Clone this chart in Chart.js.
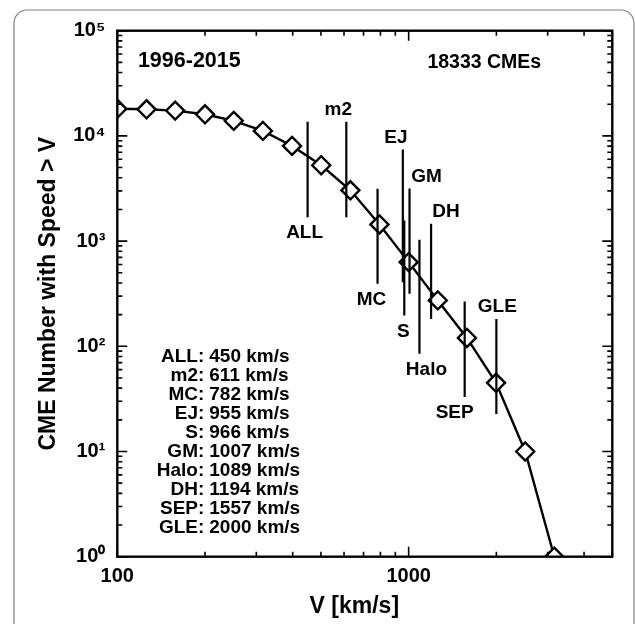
<!DOCTYPE html>
<html>
<head>
<meta charset="utf-8">
<script src="https://cdn.jsdelivr.net/npm/chart.js@4"></script>
<style>
  html, body { margin: 0; padding: 0; background: #fff; }
  #wrap { width: 635px; height: 624px; position: relative; }
</style>
</head>
<body>
<div id="wrap"><canvas id="cmeChart"></canvas></div>
<script>
// cumulative CME counts: number of CMEs faster than V
const speeds = [100, 126, 158, 200, 251, 316, 398, 501, 631, 794, 1000, 1259, 1585, 1995, 2512, 3162];
const counts = [18100, 17900, 17400, 16050, 13900, 11150, 8030, 5260, 3040, 1440, 631, 273, 120, 45, 10, 1];

// average speeds of the special populations (vertical bars)
const groupNames = ['ALL', 'm2', 'MC', 'EJ', 'S', 'GM', 'Halo', 'DH', 'SEP', 'GLE'];
const groupSpeeds = [450, 611, 782, 955, 966, 1007, 1089, 1194, 1557, 2000];
const barLow = [1690, 1690, 393, 407, 196, 316, 85, 182, 33, 22.7];
const barHigh = [13600, 13600, 3150, 7420, 1574, 3155, 1031, 1465, 267, 182];

// tick labels
const xTicks = [100, 1000];
const yTicks = [1, 10, 100, 1000, 10000, 100000];

// where each bar label sits (above/below the bar, small sideways nudge)
const labelSide = ['below', 'above', 'below', 'above', 'below', 'above', 'below', 'above', 'below', 'above'];
const labelNudge = [-3, -8, -6, -7, -1, 17, 7, 15, -10, 1];

const FONT = 'Liberation Sans, Arial, sans-serif';
const sup = { 0: '\u2070', 1: '\u00b9', 2: '\u00b2', 3: '\u00b3', 4: '\u2074', 5: '\u2075' };

Chart.defaults.font.family = FONT;
Chart.defaults.font.weight = 'bold';
Chart.defaults.color = '#000';

// ticks on all four sides, pointing inward, plus the black box
const axisBox = {
    id: 'axisBox',
    afterDatasetsDraw(chart) {
        const { ctx, chartArea: a, scales: { x, y } } = chart;
        ctx.save();
        ctx.strokeStyle = '#000';
        ctx.lineWidth = 1.6;
        ctx.beginPath();
        for (let dec = 100; dec <= 1000; dec *= 10) {
            for (let m = 1; m <= 9; m++) {
                const v = m * dec;
                if (v > 5000) break;
                const px = x.getPixelForValue(v);
                const len = m === 1 ? 10 : 5;
                ctx.moveTo(px, a.bottom); ctx.lineTo(px, a.bottom - len);
                ctx.moveTo(px, a.top); ctx.lineTo(px, a.top + len);
            }
        }
        for (let dec = 1; dec <= 100000; dec *= 10) {
            for (let m = 1; m <= 9; m++) {
                const v = m * dec;
                if (v > 100000) break;
                const py = y.getPixelForValue(v);
                const len = m === 1 ? 10 : 5;
                ctx.moveTo(a.left, py); ctx.lineTo(a.left + len, py);
                ctx.moveTo(a.right, py); ctx.lineTo(a.right - len, py);
            }
        }
        ctx.stroke();
        ctx.lineWidth = 2.4;
        ctx.strokeRect(a.left, a.top, a.right - a.left, a.bottom - a.top);
        ctx.restore();
    }
};

// texts: bar names, year range, total, speed list, x title, outer frame
const annotations = {
    id: 'annotations',
    afterDraw(chart) {
        const { ctx, chartArea: a, scales: { x, y } } = chart;
        ctx.save();
        ctx.fillStyle = '#000';
        ctx.textBaseline = 'middle';

        ctx.font = 'bold 19px ' + FONT;
        ctx.textAlign = 'center';
        groupNames.forEach((name, i) => {
            const px = x.getPixelForValue(groupSpeeds[i]) + labelNudge[i];
            const py = labelSide[i] === 'above'
                ? y.getPixelForValue(barHigh[i]) - 12
                : y.getPixelForValue(barLow[i]) + 16;
            ctx.fillText(name, px, py);
        });

        ctx.font = 'bold 21.5px ' + FONT;
        ctx.fillText('1996-2015', a.left + 72, a.top + 30);
        ctx.font = 'bold 19.5px ' + FONT;
        ctx.fillText('18333 CMEs', a.left + 367, a.top + 32);

        ctx.font = 'bold 23px ' + FONT;
        ctx.fillText('V [km/s]', a.left + 237, a.bottom + 50);

        // speed list, aligned on the colon
        ctx.font = 'bold 19px ' + FONT;
        groupNames.forEach((name, i) => {
            const py = a.top + 326 + i * 19;
            ctx.textAlign = 'right';
            ctx.fillText(name + ':', a.left + 87, py);
            ctx.textAlign = 'left';
            ctx.fillText(groupSpeeds[i] + ' km/s', a.left + 92, py);
        });

        // rounded outer frame
        ctx.strokeStyle = '#808080';
        ctx.lineWidth = 1.2;
        ctx.beginPath();
        ctx.roundRect(14, 10, 620, 700, 13);
        ctx.stroke();
        ctx.restore();
    }
};

const barSets = groupNames.map((name, i) => ({
    label: name,
    data: [{ x: groupSpeeds[i], y: barLow[i] }, { x: groupSpeeds[i], y: barHigh[i] }],
    borderColor: '#000',
    borderWidth: 2.2,
    pointRadius: 0,
    order: 0
}));

const ctx = document.getElementById('cmeChart').getContext('2d');
new Chart(ctx, {
    type: 'line',
    data: {
        datasets: [{
            label: 'CMEs',
            data: speeds.map((v, i) => ({ x: v, y: counts[i] })),
            borderColor: '#000',
            borderWidth: 2.4,
            pointStyle: 'rectRot',
            pointRadius: 9,
            pointBorderWidth: 2.4,
            pointBorderColor: '#000',
            pointBackgroundColor: '#fff',
            tension: 0,
            clip: 0,
            order: 1
        }, ...barSets]
    },
    options: {
        responsive: true,
        maintainAspectRatio: false,
        animation: false,
        events: [],
        layout: { padding: { top: 30.7, right: 22.7, left: 0, bottom: 0 } },
        plugins: { legend: { display: false }, tooltip: { enabled: false } },
        scales: {
            x: {
                type: 'logarithmic',
                min: 100,
                max: 5000,
                grid: { display: false, drawTicks: false },
                border: { display: false },
                afterBuildTicks: s => { s.ticks = xTicks.map(v => ({ value: v })); },
                afterFit: s => { s.height = 67.3; },
                ticks: {
                    autoSkip: false,
                    maxRotation: 0,
                    padding: 8,
                    font: { size: 20, weight: 'bold' },
                    callback: v => String(v)
                }
            },
            y: {
                type: 'logarithmic',
                min: 1,
                max: 100000,
                grid: { display: false, drawTicks: false },
                border: { display: false },
                afterBuildTicks: s => { s.ticks = yTicks.map(v => ({ value: v })); },
                afterFit: s => { s.width = 117.3; },
                ticks: {
                    autoSkip: false,
                    padding: 12,
                    font: { size: 20, weight: 'bold' },
                    callback: v => '10' + sup[Math.round(Math.log10(v))]
                },
                title: {
                    display: true,
                    text: 'CME Number with Speed > V',
                    font: { size: 23, weight: 'bold' },
                    padding: { top: 35, bottom: 0 }
                }
            }
        }
    },
    plugins: [axisBox, annotations]
});
</script>
</body>
</html>
